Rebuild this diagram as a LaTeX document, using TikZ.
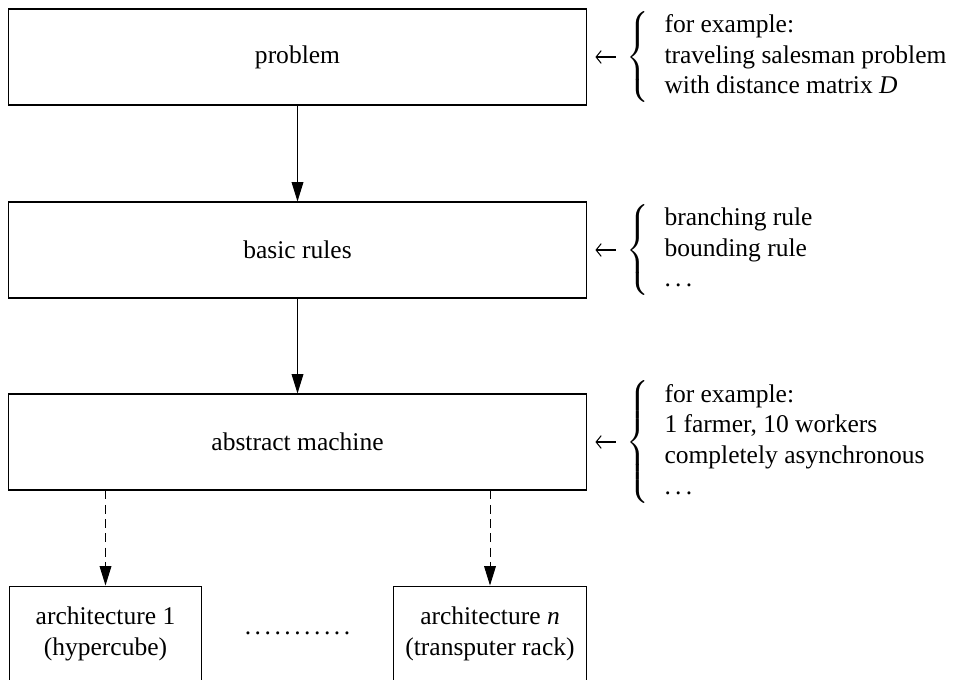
\documentclass[tikz,border=0pt]{standalone}
\usepackage{fontspec}
\setmainfont{Liberation Serif}
\usetikzlibrary{arrows.meta}
\newcommand{\mydots}{.\kern1.67pt.\kern1.67pt.}
\tikzset{
  box/.style={draw, line width=0.4pt, inner sep=0pt, minimum width=226.2pt, minimum height=37.63pt, align=center},
  smallbox/.style={draw, line width=0.4pt, inner sep=0pt, minimum width=75.5pt, minimum height=37.63pt, align=center},
  solidarr/.style={line width=0.4pt, -{Triangle[length=7.6pt,width=4.6pt]}},
  dasharr/.style={line width=0.4pt, dash pattern=on 3.5pt off 2.1pt, -{Triangle[length=7.6pt,width=4.6pt]}},
  notearr/.style={line width=0.4pt, -{Straight Barb[length=2pt,width=5pt,line width=0.4pt]}, shorten <=4pt, shorten >=3.5pt},
  note/.style={anchor=west, inner sep=0pt, align=left}
}
\begin{document}
\begin{tikzpicture}[x=0.392pt, y=-0.392pt, font=\fontsize{10}{12}\selectfont]
\useasboundingbox (0,0) rectangle (962,679);
% main boxes
\node[box] (prob) at (297.5,57) {problem};
\node[box] (basic) at (297.5,250) {basic rules};
\node[box] (abs) at (297.5,442) {abstract machine};
\node[smallbox] (arch1) at (105.5,634) {architecture 1\\(hypercube)};
\node[smallbox] (archn) at (490,634) {architecture \textit{n}\\(transputer rack)};
\node[anchor=base, inner sep=0pt] (dots) at (297.5,634) {.\kern1.38pt.\kern1.38pt.\kern1.38pt.\kern1.38pt.\kern1.38pt.\kern1.38pt.\kern1.38pt.\kern1.38pt.\kern1.38pt.\kern1.38pt.};
% connectors
\draw[solidarr] (prob) -- (basic);
\draw[solidarr] (basic) -- (abs);
\draw[dasharr] (arch1.north |- abs.south) -- (arch1.north);
\draw[dasharr] (archn.north |- abs.south) -- (archn.north);
% notes
\node[note] (n1) at (626,57) {$\left\{\mbox{\begin{tabular}{l}for example:\\ traveling salesman problem\\ with distance matrix \textit{D}\end{tabular}}\right.$};
\node[note] (n2) at (626,250) {$\left\{\mbox{\begin{tabular}{l}branching rule\\ bounding rule\\ \mydots\end{tabular}}\right.$};
\node[note] (n3) at (626,442) {$\left\{\mbox{\begin{tabular}{l}for example:\\ 1 farmer, 10 workers\\ completely asynchronous\\ \mydots\end{tabular}}\right.$};
\draw[notearr] (n1.west) -- (prob.east);
\draw[notearr] (n2.west) -- (basic.east);
\draw[notearr] (n3.west) -- (abs.east);
\end{tikzpicture}
\end{document}
